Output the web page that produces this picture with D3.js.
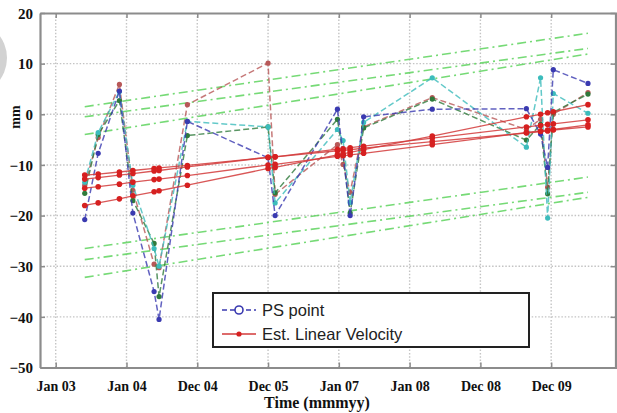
<!DOCTYPE html>
<html>
<head>
<meta charset="utf-8">
<script src="https://cdn.jsdelivr.net/npm/d3@7"></script>
<style>
  html, body { margin: 0; padding: 0; background: #fff; }
  svg { display: block; }
</style>
</head>
<body>
<svg id="chart" width="617" height="413"></svg>
<script>
// ---------- data ----------
// acquisition dates, in years after "Jan 03" (axis tick 0)
const dates = [0.41, 0.60, 0.90, 1.09, 1.39, 1.46, 1.86, 3.00, 3.10, 3.98, 4.06, 4.16, 4.35, 5.32, 6.65, 6.85, 6.95, 7.03, 7.52];

// PS point time series (mm), dashed
const psBlue  = [-20.8, -7.7, 4.6, -19.5, -35.0, -40.5, -1.4, -8.6, -20.0, 1.0, -8.0, -20.0, -0.5, 1.0, 1.1, -3.9, -10.5, 8.8, 6.1];
const psCyan  = [-13.4, -3.6, 4.5, -14.0, -26.5, -30.0, -1.4, -2.5, -17.5, -3.0, -5.2, -17.4, -1.6, 7.2, -6.5, 7.2, -20.5, 4.1, 0.2];
const psGreen = [-15.6, -4.0, 2.7, -17.0, -25.5, -36.0, -4.2, -2.5, -15.5, -1.0, -8.0, -19.5, -2.7, 3.0, -5.1, -2.0, -15.7, 0.4, 4.0];
const psRed   = [-14.0, -4.6, 5.9, -15.0, -29.6, -30.3, 1.9, 10.1, -15.8, -6.0, -9.9, -15.4, -2.5, 3.3, -3.0, -1.0, -14.4, 0.0, 4.3];

// Estimated linear velocity fits (mm), solid red with dots
const velA = [-12.0, -11.8, -11.4, -11.1, -10.7, -10.6, -10.1, -8.5, -8.4, -7.2, -7.1, -7.0, -6.7, -5.4, -3.7, -3.4, -3.3, -3.1, -2.5];
const velB = [-12.8, -12.5, -12.0, -11.7, -11.2, -11.1, -10.4, -8.5, -8.4, -6.9, -6.8, -6.6, -6.3, -4.7, -2.5, -2.2, -2.0, -1.9, -1.1];
const velC = [-14.6, -14.3, -13.8, -13.4, -12.9, -12.8, -12.1, -10.0, -9.9, -8.3, -8.2, -8.0, -7.7, -6.0, -3.6, -3.3, -3.1, -3.0, -2.1];
const velD = [-18.0, -17.5, -16.7, -16.1, -15.3, -15.1, -14.0, -10.7, -10.5, -8.0, -7.8, -7.5, -7.0, -4.3, -0.5, 0.0, 0.3, 0.5, 1.9];

// confidence bound lines (start value at first date, end value at last date)
const boundStart = [1.5, -0.5, -4.0, -26.5, -28.7, -32.2];
const boundEnd   = [16.0, 13.0, 11.9, -12.4, -15.4, -16.4];

// axis ticks
const xTickValues = [0, 1, 2, 3, 4, 5, 6, 7];
const xTickLabels = ["Jan 03", "Jan 04", "Dec 04", "Dec 05", "Jan 07", "Jan 08", "Dec 08", "Dec 09"];
const yTickValues = [-50, -40, -30, -20, -10, 0, 10, 20];

const legendLabels = ["PS point", "Est. Linear Velocity"];

// ---------- drawing ----------
const svg = d3.select("#chart");
const L = 40, T = 13, R = 617, B = 367.5;

const x = d3.scaleLinear().domain([-0.222, 7.93]).range([L, R]);
const y = d3.scaleLinear().domain([-50, 20]).range([B, T]);

// decorative grey circle at left edge
svg.append("circle").attr("cx", -30).attr("cy", 58).attr("r", 37)
  .attr("fill", "#d2d2d2");

// grid
const grid = svg.append("g");
grid.selectAll(".vg").data(xTickValues).join("line")
  .attr("x1", d => x(d)).attr("x2", d => x(d))
  .attr("y1", T).attr("y2", B)
  .attr("stroke", "#c4c4c4").attr("stroke-width", 1.4).attr("stroke-dasharray", "1.5,1.8");
grid.selectAll(".hg").data(yTickValues.filter(v => v > -50 && v < 20)).join("line")
  .attr("x1", L).attr("x2", R)
  .attr("y1", d => y(d)).attr("y2", d => y(d))
  .attr("stroke", "#c4c4c4").attr("stroke-width", 1.4).attr("stroke-dasharray", "1.5,1.8");

// confidence bounds (light green dash-dot)
const x0 = dates[0], x1 = dates[dates.length - 1];
svg.append("g").selectAll("line").data(boundStart.map((s, i) => [s, boundEnd[i]])).join("line")
  .attr("x1", x(x0)).attr("x2", x(x1))
  .attr("y1", d => y(d[0])).attr("y2", d => y(d[1]))
  .attr("stroke", "#55d255").attr("stroke-width", 1.6)
  .attr("stroke-dasharray", "9,4,2,4").attr("opacity", 0.8);

const lineGen = d3.line().x(d => x(d[0])).y(d => y(d[1]));

// PS point series (dashed)
const psSeries = [
  { vals: psRed,   color: "#b85858" },
  { vals: psGreen, color: "#2f7a3c" },
  { vals: psCyan,  color: "#3cbcbc" },
  { vals: psBlue,  color: "#3a3ab0" }
];
psSeries.forEach(s => {
  const pts = dates.map((d, i) => [d, s.vals[i]]);
  svg.append("path").datum(pts).attr("d", lineGen)
    .attr("fill", "none").attr("stroke", s.color).attr("stroke-width", 1.5)
    .attr("stroke-dasharray", "6,3").attr("opacity", 0.8);
  svg.append("g").selectAll("circle").data(pts).join("circle")
    .attr("cx", d => x(d[0])).attr("cy", d => y(d[1])).attr("r", 2.6)
    .attr("fill", s.color);
});

// velocity fits (solid red)
[velA, velB, velC, velD].forEach(v => {
  const pts = dates.map((d, i) => [d, v[i]]);
  svg.append("path").datum(pts).attr("d", lineGen)
    .attr("fill", "none").attr("stroke", "#d23a3a").attr("stroke-width", 1.3).attr("opacity", 0.85);
  svg.append("g").selectAll("circle").data(pts).join("circle")
    .attr("cx", d => x(d[0])).attr("cy", d => y(d[1])).attr("r", 2.8)
    .attr("fill", "#d62020");
});

// axes
const fontSerif = "'Liberation Serif', 'Times New Roman', serif";
const xAxis = svg.append("g").attr("transform", `translate(0,${B})`)
  .call(d3.axisBottom(x).tickValues(xTickValues).tickFormat((d, i) => xTickLabels[i])
        .tickSizeInner(-5).tickSizeOuter(0).tickPadding(14));
const xAxisTop = svg.append("g").attr("transform", `translate(0,${T})`)
  .call(d3.axisTop(x).tickValues(xTickValues).tickFormat("")
        .tickSizeInner(-5).tickSizeOuter(0));
const yAxis = svg.append("g").attr("transform", `translate(${L},0)`)
  .call(d3.axisLeft(y).tickValues(yTickValues)
        .tickSizeInner(-5).tickSizeOuter(0).tickPadding(7));
const yAxisRight = svg.append("g").attr("transform", `translate(${R - 1.5},0)`)
  .call(d3.axisRight(y).tickValues(yTickValues).tickFormat("")
        .tickSizeInner(-5).tickSizeOuter(0));

[xAxis, xAxisTop, yAxis, yAxisRight].forEach(g => {
  g.select(".domain").attr("stroke", "#8c8c8c").attr("stroke-width", 2.2);
  g.selectAll(".tick line").attr("stroke", "#8c8c8c").attr("stroke-width", 1.5);
  g.selectAll(".tick text").attr("fill", "#111").attr("font-family", fontSerif)
    .attr("font-weight", "bold");
});
xAxis.selectAll(".tick text").attr("font-size", 14);
yAxis.selectAll(".tick text").attr("font-size", 15).attr("dy", "0.35em");

// axis titles
svg.append("text").attr("x", 317).attr("y", 408)
  .attr("text-anchor", "middle").attr("font-family", fontSerif).attr("font-weight", "bold")
  .attr("font-size", 16).attr("fill", "#111").text("Time (mmmyy)");
svg.append("text").attr("transform", `translate(20,117) rotate(-90)`)
  .attr("text-anchor", "middle").attr("font-family", fontSerif).attr("font-weight", "bold")
  .attr("font-size", 14).attr("fill", "#111").text("mm");

// legend
const lg = svg.append("g");
lg.append("rect").attr("x", 213).attr("y", 293).attr("width", 316).attr("height", 54)
  .attr("fill", "#fff").attr("stroke", "#222").attr("stroke-width", 2);
const fontSans = "'Liberation Sans', Arial, sans-serif";
// PS point entry
lg.append("line").attr("x1", 222).attr("x2", 256).attr("y1", 310).attr("y2", 310)
  .attr("stroke", "#3a3ab0").attr("stroke-width", 1.6).attr("stroke-dasharray", "5,3");
lg.append("circle").attr("cx", 239).attr("cy", 310).attr("r", 4)
  .attr("fill", "#fff").attr("stroke", "#3a3ab0").attr("stroke-width", 1.6);
lg.append("text").attr("x", 262).attr("y", 316).attr("font-family", fontSans)
  .attr("font-size", 16.5).attr("fill", "#222").text(legendLabels[0]);
// velocity entry
lg.append("line").attr("x1", 222).attr("x2", 256).attr("y1", 334).attr("y2", 334)
  .attr("stroke", "#d23a3a").attr("stroke-width", 1.6);
lg.append("circle").attr("cx", 239).attr("cy", 334).attr("r", 2.6).attr("fill", "#d62020");
lg.append("text").attr("x", 262).attr("y", 340).attr("font-family", fontSans)
  .attr("font-size", 16.5).attr("fill", "#222").text(legendLabels[1]);
</script>
</body>
</html>
